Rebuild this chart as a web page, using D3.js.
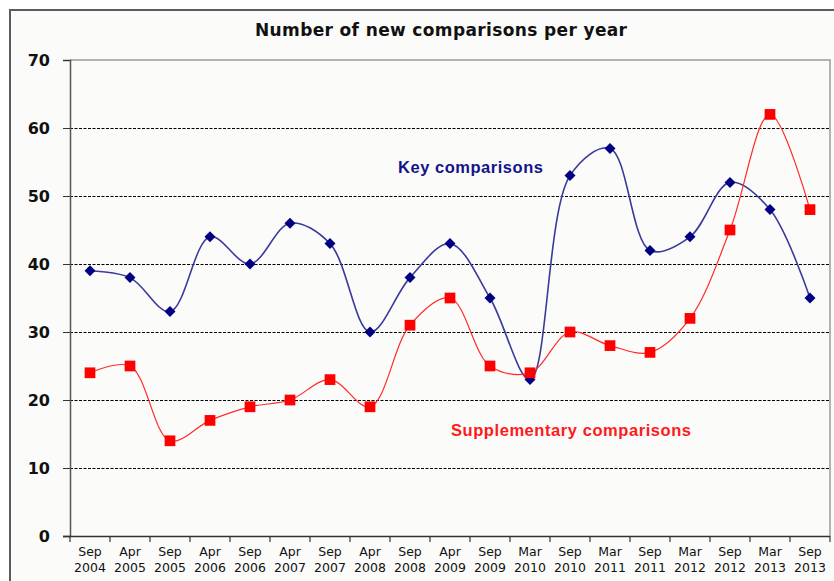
<!DOCTYPE html>
<html><head><meta charset="utf-8">
<script src="https://cdn.jsdelivr.net/npm/d3@7"></script>
<style>
html,body{margin:0;padding:0;background:#fff;}
svg{display:block;}
</style></head>
<body>
<svg id="chart" width="834" height="581"></svg>
<script>
const categories = [
  ["Sep","2004"],["Apr","2005"],["Sep","2005"],["Apr","2006"],["Sep","2006"],
  ["Apr","2007"],["Sep","2007"],["Apr","2008"],["Sep","2008"],["Apr","2009"],
  ["Sep","2009"],["Mar","2010"],["Sep","2010"],["Mar","2011"],["Sep","2011"],
  ["Mar","2012"],["Sep","2012"],["Mar","2013"],["Sep","2013"]
];
const keyValues  = [39,38,33,44,40,46,43,30,38,43,35,23,53,57,42,44,52,48,35];
const suppValues = [24,25,14,17,19,20,23,19,31,35,25,24,30,28,27,32,45,62,48];
const yTicks = [0,10,20,30,40,50,60,70];
const titleText = "Number of new comparisons per year";
const keyLabel = "Key comparisons";
const suppLabel = "Supplementary comparisons";

const svg = d3.select("#chart");
const m = {left:70, right:830, top:60, bottom:536};

// outer frame
svg.append("rect").attr("x",10).attr("y",10).attr("width",900).attr("height",700)
  .attr("fill","#fbfcfa").attr("stroke","#5a5c5a").attr("stroke-width",2);

const keys = categories.map((c,i)=>i);
const xBand = d3.scaleBand().domain(keys).range([m.left, m.right]);
const xc = i => xBand(i) + xBand.bandwidth()/2;
const y = d3.scaleLinear().domain([0,70]).range([m.bottom, m.top]);

// plot area border (top & right)
svg.append("path")
  .attr("d", `M${m.left},${y(70)}H${m.right}V${y(0)}`)
  .attr("fill","none").attr("stroke","#9a9a9a").attr("stroke-width",1.5);

// gridlines
svg.append("g").selectAll("line").data(yTicks.filter(v=>v>0 && v<70)).join("line")
  .attr("x1",m.left).attr("x2",m.right)
  .attr("y1",d=>Math.round(y(d))+0.5).attr("y2",d=>Math.round(y(d))+0.5)
  .attr("stroke","#000").attr("stroke-width",1).attr("stroke-dasharray","3,1.5");

// y axis
const yAxis = svg.append("g").attr("transform",`translate(${m.left},0)`)
  .call(d3.axisLeft(y).tickValues(yTicks).tickSize(7).tickPadding(13));
yAxis.select(".domain").attr("stroke","#555").attr("stroke-width",1.5);
yAxis.selectAll(".tick line").attr("stroke","#333");
yAxis.selectAll("text").attr("font-family","DejaVu Sans").attr("font-weight","bold")
  .attr("font-size","16px").attr("fill","#111");

// x axis baseline
svg.append("line").attr("x1",m.left-7).attr("x2",m.right)
  .attr("y1",y(0)+0.5).attr("y2",y(0)+0.5).attr("stroke","#333").attr("stroke-width",1.5);
// x ticks at band boundaries
const bounds = keys.map(i=>xBand(i)).concat([m.right]);
svg.append("g").selectAll("line").data(bounds).join("line")
  .attr("x1",d=>d).attr("x2",d=>d).attr("y1",y(0)).attr("y2",y(0)+6)
  .attr("stroke","#333").attr("stroke-width",1.2);
// x labels
const xl = svg.append("g").attr("font-family","DejaVu Sans").attr("font-size","12.5px")
  .attr("fill","#111").attr("text-anchor","middle");
categories.forEach((c,i)=>{
  const t = xl.append("text").attr("x",xc(i)).attr("y",556);
  t.append("tspan").attr("x",xc(i)).text(c[0]);
  t.append("tspan").attr("x",xc(i)).attr("dy",16).text(c[1]);
});

// title
svg.append("text").attr("x",441).attr("y",36).attr("text-anchor","middle")
  .attr("font-family","DejaVu Sans").attr("font-weight","bold").attr("font-size","17px")
  .attr("fill","#111").attr("textLength",372).attr("lengthAdjust","spacing").text(titleText);

const line = d3.line().x((d,i)=>xc(i)).y(d=>y(d)).curve(d3.curveCatmullRom.alpha(0.5));

// key series
svg.append("path").datum(keyValues).attr("d",line).attr("fill","none")
  .attr("stroke","#3a3a9c").attr("stroke-width",1.6);
svg.append("g").selectAll("path").data(keyValues).join("path")
  .attr("d",d3.symbol(d3.symbolSquare, 60))
  .attr("transform",(d,i)=>`translate(${xc(i)},${y(d)}) rotate(45)`)
  .attr("fill","#000080");

// supplementary series
svg.append("path").datum(suppValues).attr("d",line).attr("fill","none")
  .attr("stroke","#ff2a2a").attr("stroke-width",1.2);
svg.append("g").selectAll("path").data(suppValues).join("path")
  .attr("d",d3.symbol(d3.symbolSquare, 115))
  .attr("transform",(d,i)=>`translate(${xc(i)},${y(d)})`)
  .attr("fill","#ff0000");

// series labels
svg.append("text").attr("x",398).attr("y",173).attr("font-family","Liberation Sans")
  .attr("font-weight","bold").attr("font-size","16.5px").attr("fill","#14148a")
  .attr("textLength",145).attr("lengthAdjust","spacing").text(keyLabel);
svg.append("text").attr("x",451).attr("y",436).attr("font-family","Liberation Sans")
  .attr("font-weight","bold").attr("font-size","16.5px").attr("fill","#ff1a1a")
  .attr("textLength",240).attr("lengthAdjust","spacing").text(suppLabel);
</script>
</body></html>
